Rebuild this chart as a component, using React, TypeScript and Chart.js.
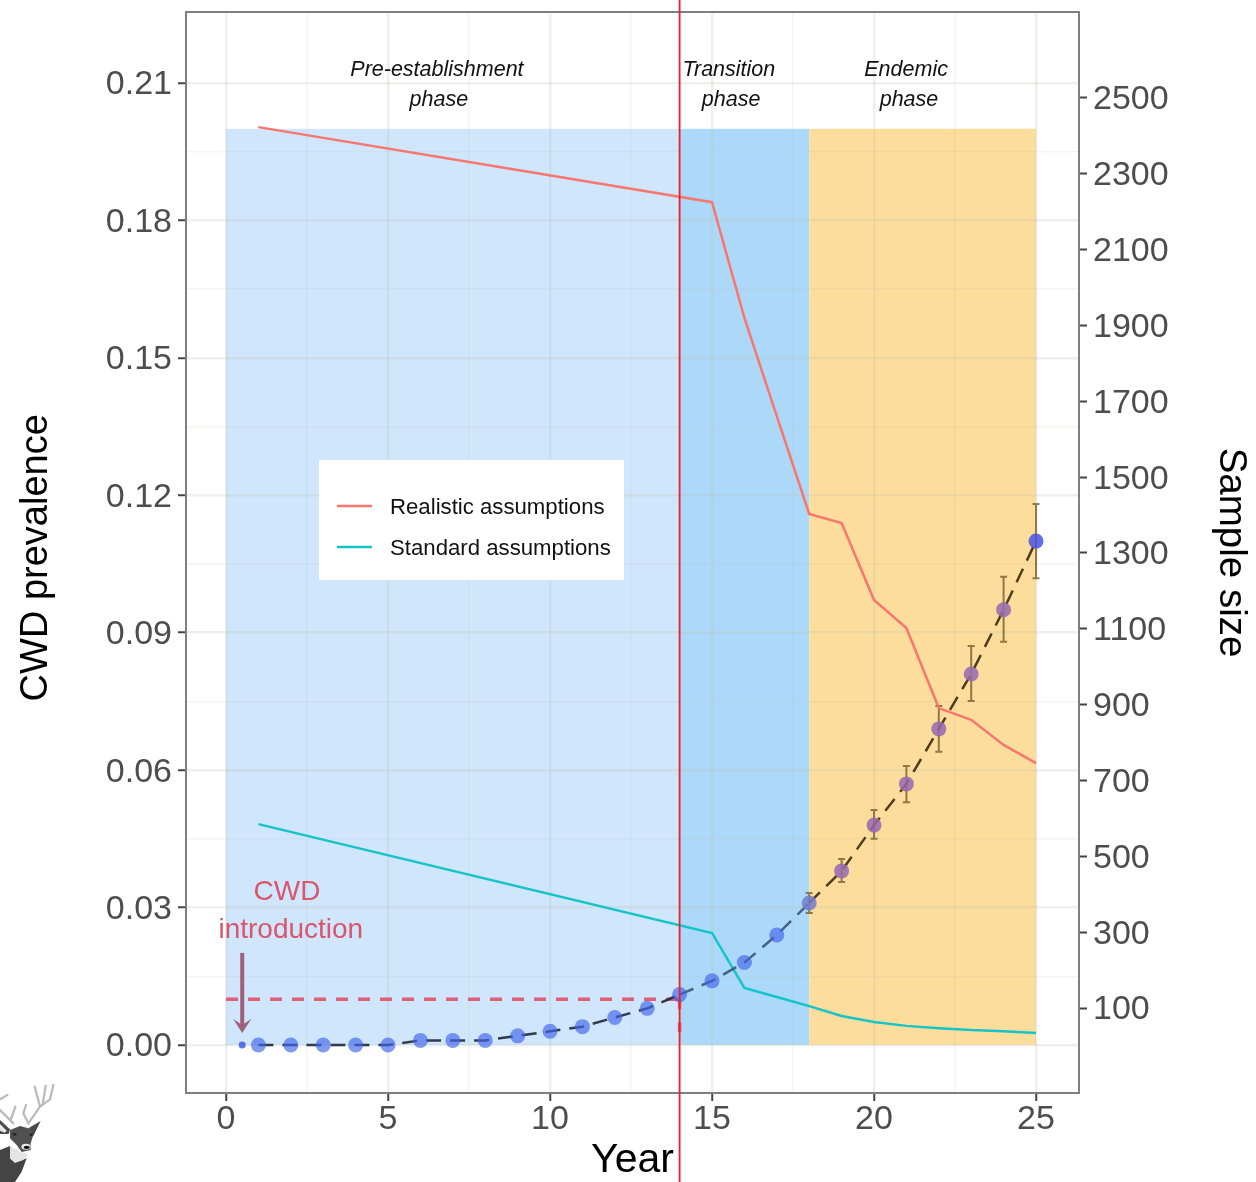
import React, { useEffect, useRef } from "react";
import { Chart, registerables } from "chart.js";

Chart.register(...registerables);

const FONT = '"Liberation Sans", Arial, sans-serif';

const xTickValues = [0, 2.5, 5, 7.5, 10, 12.5, 15, 17.5, 20, 22.5, 25];
const leftTickValues = [0, 0.015, 0.03, 0.045, 0.06, 0.075, 0.09, 0.105, 0.12, 0.135, 0.15, 0.165, 0.18, 0.195, 0.21];
const rightTickValues = [100, 300, 500, 700, 900, 1100, 1300, 1500, 1700, 1900, 2100, 2300, 2500];

const years = [1, 2, 3, 4, 5, 6, 7, 8, 9, 10, 11, 12, 13, 14, 15, 16, 17, 18, 19, 20, 21, 22, 23, 24, 25];
const prevalence = [0, 0, 0, 0, 0, 0.001, 0.001, 0.001, 0.002, 0.003, 0.004, 0.006, 0.008, 0.011, 0.014, 0.018, 0.024, 0.031, 0.038, 0.048, 0.057, 0.069, 0.081, 0.095, 0.11];

const errorYears = [18, 19, 20, 21, 22, 23, 24, 25];
const errorHigh = [0.0332, 0.0406, 0.0513, 0.0609, 0.074, 0.0871, 0.1022, 0.1181];
const errorLow = [0.0288, 0.0356, 0.045, 0.053, 0.064, 0.0751, 0.088, 0.1019];

const sampleYears = [1, 15, 16, 17, 18, 19, 20, 21, 22, 23, 24, 25];
const realisticSize = [2423, 2225, 1920, 1661, 1403, 1379, 1176, 1102, 891, 860, 794, 746];
const standardSize = [585, 298, 153, 129, 105, 79, 63, 53, 47, 42, 39, 34];

const bandStarts = [0, 14, 18];
const bandEnds = [14, 18, 25];
const bandColors = ["#cfe6fd", "#acd8fa", "#fddd9b"];
const bandTop = 0.2;

const introductionX = [0.5];
const introductionY = [0];
const thresholdX = [0, 14];
const thresholdY = [0.01, 0.01];
const dropX = [14, 14];
const dropY = [0.01, 0.0026];
const arrowX = 0.5;
const arrowFrom = 0.0201;
const arrowTo = 0.0026;
const transitionYear = 14;

const phaseTexts = ["Pre-establishment", "phase", "Transition", "phase", "Endemic", "phase"];
const phaseX = [6.51, 6.57, 15.52, 15.59, 20.99, 21.08];
const phaseY = [0.2131, 0.2067, 0.2131, 0.2067, 0.2131, 0.2067];
const introTexts = ["CWD", "introduction"];
const introX = [1.88, 2.0];
const introY = [0.0338, 0.0255];

const zip = (xs: number[], ys: number[]) => xs.map((x, i) => ({ x, y: ys[i] }));

const chartPlugin = {
  id: "decor",
  beforeDraw(chart: any) {
    const { ctx, scales, chartArea } = chart;
    const { x, y } = scales;
    // nudge the vertical axes' labels onto their tick marks' glyph centre
    [y, scales.y1].forEach((scale: any) => {
      if (scale._labelsNudged) return;
      scale.getLabelItems(chartArea).forEach((item: any) => {
        const [tx, ty] = item.options.translation;
        item.options.translation = [tx, ty + 2];
      });
      scale._labelsNudged = true;
    });
    ctx.save();
    bandStarts.forEach((s, i) => {
      const l = x.getPixelForValue(s);
      const r = x.getPixelForValue(bandEnds[i]);
      const t = y.getPixelForValue(bandTop);
      const b = y.getPixelForValue(0);
      ctx.fillStyle = bandColors[i];
      ctx.fillRect(l, t, r - l, b - t);
    });
    ctx.restore();
  },
  beforeDatasetsDraw(chart: any) {
    const { ctx, scales } = chart;
    const { x, y } = scales;
    ctx.save();
    ctx.strokeStyle = "rgba(110,85,40,0.75)";
    ctx.lineWidth = 2;
    errorYears.forEach((yr, i) => {
      const px = x.getPixelForValue(yr);
      const hi = y.getPixelForValue(errorHigh[i]);
      const lo = y.getPixelForValue(errorLow[i]);
      ctx.beginPath();
      ctx.moveTo(px, hi);
      ctx.lineTo(px, lo);
      ctx.moveTo(px - 3.5, hi);
      ctx.lineTo(px + 3.5, hi);
      ctx.moveTo(px - 3.5, lo);
      ctx.lineTo(px + 3.5, lo);
      ctx.stroke();
    });
    ctx.restore();
  },
  afterDatasetsDraw(chart: any) {
    const { ctx, scales, chartArea, data } = chart;
    const { x, y } = scales;
    ctx.save();

    // arrow
    const ax = x.getPixelForValue(arrowX);
    const a0 = y.getPixelForValue(arrowFrom);
    const a1 = y.getPixelForValue(arrowTo);
    ctx.strokeStyle = "#a0607c";
    ctx.fillStyle = "#a0607c";
    ctx.lineWidth = 4;
    ctx.beginPath();
    ctx.moveTo(ax, a0);
    ctx.lineTo(ax, a1 - 8);
    ctx.stroke();
    ctx.beginPath();
    ctx.moveTo(ax - 9, a1 - 14);
    ctx.lineTo(ax, a1);
    ctx.lineTo(ax + 9, a1 - 14);
    ctx.lineTo(ax, a1 - 8);
    ctx.closePath();
    ctx.fill();

    // phase labels
    ctx.fillStyle = "#111111";
    ctx.font = `italic 21.5px ${FONT}`;
    ctx.textAlign = "center";
    ctx.textBaseline = "middle";
    phaseTexts.forEach((t, i) => {
      ctx.fillText(t, x.getPixelForValue(phaseX[i]), y.getPixelForValue(phaseY[i]) + 1.5);
    });

    // introduction labels
    ctx.fillStyle = "#d9566c";
    ctx.font = `28px ${FONT}`;
    introTexts.forEach((t, i) => {
      ctx.fillText(t, x.getPixelForValue(introX[i]), y.getPixelForValue(introY[i]) + 2);
    });

    // legend
    const lx = chartArea.left + 133;
    const ly = chartArea.top + 448;
    ctx.fillStyle = "#ffffff";
    ctx.fillRect(lx, ly, 305, 120);
    ctx.font = `22.2px ${FONT}`;
    ctx.textAlign = "left";
    const entries = [data.datasets[0], data.datasets[1]];
    entries.forEach((d: any, i: number) => {
      const cy = ly + 46 + i * 41;
      ctx.strokeStyle = d.borderColor;
      ctx.lineWidth = 2.5;
      ctx.beginPath();
      ctx.moveTo(lx + 18, cy);
      ctx.lineTo(lx + 53, cy);
      ctx.stroke();
      ctx.fillStyle = "#111111";
      ctx.fillText(d.label, lx + 71, cy + 2);
    });

    // panel border
    ctx.strokeStyle = "#7f7f7f";
    ctx.lineWidth = 2;
    ctx.strokeRect(chartArea.left, chartArea.top, chartArea.right - chartArea.left, chartArea.bottom - chartArea.top);
    ctx.restore();
  },
  afterDraw(chart: any) {
    const { ctx, scales, height } = chart;
    const px = scales.x.getPixelForValue(transitionYear);
    ctx.save();
    ctx.strokeStyle = "#f01c28";
    ctx.lineWidth = 1.8;
    ctx.beginPath();
    ctx.moveTo(px, 0);
    ctx.lineTo(px, height);
    ctx.stroke();
    ctx.restore();
  },
};

const isMajorX = (v: number) => Number.isInteger(v / 5);
const isMajorY = (v: number) => Math.abs(v / 0.03 - Math.round(v / 0.03)) < 1e-6;
const GRID_MAJOR = "rgba(190,195,175,0.25)";
const GRID_MINOR = "rgba(190,195,175,0.16)";
const TICK_COLOR = "#444444";

const pointColor = (c: any) => {
  const yr = c.raw ? c.raw.x : 0;
  if (yr === 25) return "rgba(70,85,225,0.85)";
  if (yr === 18) return "rgba(115,125,205,0.85)";
  if (yr > 18) return "rgba(150,105,175,0.85)";
  return "rgba(65,100,235,0.65)";
};
const dashColor = (x0: number) => {
  if (x0 >= 18) return "rgba(60,42,12,0.9)";
  if (x0 >= 14) return "rgba(60,85,115,0.9)";
  return "rgba(30,40,60,0.9)";
};

const Deer = () => (
  <svg
    viewBox="0 0 360 366"
    width={120}
    height={122}
    style={{ position: "absolute", left: 0, top: 1060, pointerEvents: "none" }}
  >
    <g fill="none" stroke="#bcbcbc" strokeWidth={7} strokeLinecap="round" strokeLinejoin="round">
      <path d="M85 190 L120 140 L104 80" />
      <path d="M120 140 L150 118 L160 75" />
      <path d="M128 133 L137 78" />
      <path d="M85 190 L70 160 L78 135" />
      <path d="M40 190 L0 150" />
      <path d="M32 180 L46 140" />
      <path d="M0 118 L22 105" />
    </g>
    <path d="M0 180 L30 208 L26 222 L0 222 Z" fill="#4a4a4a" />
    <path d="M0 192 L20 212 L14 218 L0 212 Z" fill="#e8e8e8" />
    <path d="M85 205 L122 183 L100 228 Z" fill="#4a4a4a" />
    <path d="M0 270 L30 258 L30 295 L45 308 L80 295 L65 335 L45 366 L0 366 Z" fill="#444444" />
    <path d="M30 210 L60 198 L85 205 L100 225 L92 250 L92 270 L65 276 L50 255 L30 235 Z" fill="#505050" />
    <path d="M30 258 L60 276 L85 282 L70 300 L45 308 L30 295 Z" fill="#e4e4e4" />
    <ellipse cx={78} cy={260} rx={14} ry={9} fill="#e8e8e8" />
    <ellipse cx={80} cy={262} rx={9} ry={5} fill="#111111" />
    <ellipse cx={44} cy={223} rx={6} ry={3.5} fill="#1c1c1c" />
    <ellipse cx={93} cy={224} rx={5} ry={3.5} fill="#1c1c1c" />
  </svg>
);

export default function App() {
  const ref = useRef<HTMLCanvasElement | null>(null);

  useEffect(() => {
    if (!ref.current) return;
    const tickFont = { family: FONT, size: 34 };
    const chart = new Chart(ref.current, {
      type: "line",
      data: {
        datasets: [
          {
            label: "Realistic assumptions",
            data: zip(sampleYears, realisticSize),
            yAxisID: "y1",
            borderColor: "#f8766d",
            borderWidth: 2.5,
            pointRadius: 0,
            tension: 0,
            order: 3,
          },
          {
            label: "Standard assumptions",
            data: zip(sampleYears, standardSize),
            yAxisID: "y1",
            borderColor: "#14c4c9",
            borderWidth: 2.5,
            pointRadius: 0,
            tension: 0,
            order: 4,
          },
          {
            label: "CWD prevalence",
            data: zip(years, prevalence),
            yAxisID: "y",
            borderColor: "rgba(30,40,60,0.9)",
            borderWidth: 2.5,
            borderDash: [15, 9],
            segment: { borderColor: (c: any) => dashColor(c.p0.parsed.x) },
            pointRadius: 7.5,
            pointBorderWidth: 0,
            pointBackgroundColor: pointColor,
            tension: 0,
            order: 1,
          },
          {
            label: "CWD introduction",
            data: zip(introductionX, introductionY),
            yAxisID: "y",
            showLine: false,
            pointRadius: 3.5,
            pointBorderWidth: 0,
            pointBackgroundColor: "rgba(55,80,230,0.8)",
            order: 2,
          },
          {
            label: "Prevalence threshold",
            data: zip(thresholdX, thresholdY),
            yAxisID: "y",
            borderColor: "#dd5f78",
            borderWidth: 3.5,
            borderDash: [12, 10],
            pointRadius: 0,
            tension: 0,
            order: 5,
          },
          {
            label: "Threshold drop",
            data: zip(dropX, dropY),
            yAxisID: "y",
            borderColor: "#dd5f78",
            borderWidth: 3.5,
            borderDash: [10, 13],
            pointRadius: 0,
            tension: 0,
            order: 6,
          },
        ],
      },
      options: {
        responsive: false,
        animation: false,
        layout: { padding: { top: 12, left: 0, right: 0, bottom: 0 } },
        plugins: { legend: { display: false }, tooltip: { enabled: false } },
        scales: {
          x: {
            type: "linear",
            min: -1.235,
            max: 26.327,
            afterFit: (s: any) => {
              s.height = 89;
              s.paddingLeft = 0;
              s.paddingRight = 0;
            },
            afterBuildTicks: (s: any) => { s.ticks = xTickValues.map((value) => ({ value })); },
            border: { display: false },
            grid: {
              color: (c: any) => (isMajorX(c.tick.value) ? GRID_MAJOR : GRID_MINOR),
              lineWidth: (c: any) => (isMajorX(c.tick.value) ? 2.5 : 1.5),
              tickColor: (c: any) => (isMajorX(c.tick.value) ? TICK_COLOR : "rgba(0,0,0,0)"),
              tickWidth: 2,
              tickLength: 8,
            },
            ticks: {
              autoSkip: false,
              maxRotation: 0,
              color: "#4d4d4d",
              font: tickFont,
              padding: -2,
              callback: (v: any) => (isMajorX(Number(v)) ? String(v) : ""),
            },
            title: {
              display: true,
              text: "Year",
              color: "#000000",
              font: { family: FONT, size: 41 },
              padding: { top: 0, bottom: -3 },
            },
          },
          y: {
            type: "linear",
            position: "left",
            min: -0.01048,
            max: 0.2255,
            afterFit: (s: any) => {
              s.width = 186;
              s.paddingTop = 0;
              s.paddingBottom = 0;
            },
            afterBuildTicks: (s: any) => { s.ticks = leftTickValues.map((value) => ({ value })); },
            border: { display: false },
            grid: {
              color: (c: any) => (isMajorY(c.tick.value) ? GRID_MAJOR : GRID_MINOR),
              lineWidth: (c: any) => (isMajorY(c.tick.value) ? 2.5 : 1.5),
              tickColor: (c: any) => (isMajorY(c.tick.value) ? TICK_COLOR : "rgba(0,0,0,0)"),
              tickWidth: 2,
              tickLength: 8,
            },
            ticks: {
              autoSkip: false,
              color: "#4d4d4d",
              font: tickFont,
              padding: 6,
              callback: (v: any) => (isMajorY(Number(v)) ? Number(v).toFixed(2) : ""),
            },
            title: {
              display: true,
              text: "CWD prevalence ",
              color: "#000000",
              font: { family: FONT, size: 38 },
              padding: { top: 14, bottom: 0 },
            },
          },
          y1: {
            type: "linear",
            position: "right",
            min: -124,
            max: 2726.6,
            afterFit: (s: any) => {
              s.width = 177;
              s.paddingTop = 0;
              s.paddingBottom = 0;
            },
            afterBuildTicks: (s: any) => { s.ticks = rightTickValues.map((value) => ({ value })); },
            border: { display: false },
            grid: {
              drawOnChartArea: false,
              tickColor: TICK_COLOR,
              tickWidth: 2,
              tickLength: 8,
            },
            ticks: {
              autoSkip: false,
              color: "#4d4d4d",
              font: tickFont,
              padding: 6,
              callback: (v: any) => String(v),
            },
            title: {
              display: true,
              text: "Sample size",
              color: "#000000",
              font: { family: FONT, size: 38.5 },
              padding: { top: 2, bottom: 0 },
            },
          },
        },
      },
      plugins: [chartPlugin],
    } as any);
    return () => chart.destroy();
  }, []);

  return (
    <div style={{ position: "absolute", left: 0, top: 0, width: 1256, height: 1182, overflow: "hidden", background: "#ffffff" }}>
      <canvas ref={ref} width={1256} height={1182} style={{ display: "block" }} />
      <Deer />
    </div>
  );
}
